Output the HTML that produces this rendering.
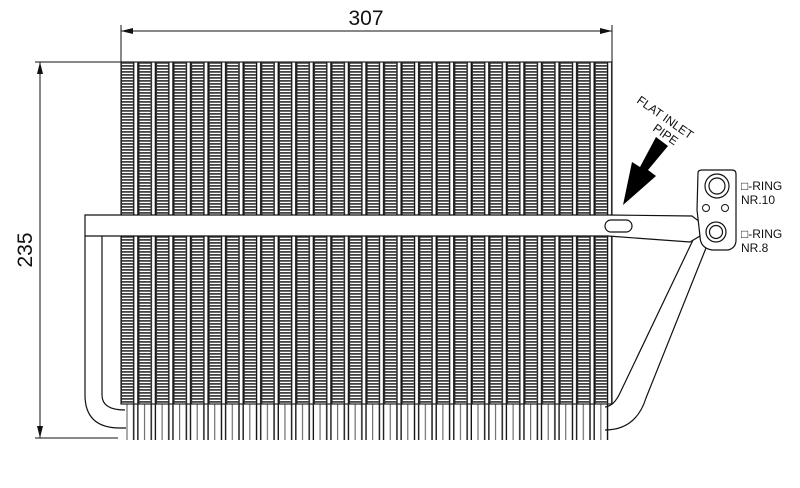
<!DOCTYPE html>
<html><head><style>body{margin:0;background:#fff}svg{display:block}</style></head><body>
<svg width="800" height="488" viewBox="0 0 800 488" xmlns="http://www.w3.org/2000/svg">
<defs>
<pattern id="fin" x="0" y="62" width="4" height="3" patternUnits="userSpaceOnUse">
<rect width="4" height="3" fill="#fff"/><rect y="0" width="4" height="1.8" fill="#444"/>
</pattern>
<pattern id="tube" x="121" y="0" width="17.55" height="488" patternUnits="userSpaceOnUse">
<rect x="12" y="0" width="5.5" height="488" fill="#fff"/>
<rect x="12" y="0" width="1.4" height="488" fill="#111"/>
<rect x="16.2" y="0" width="1.4" height="488" fill="#111"/>
<rect x="0" y="0" width="1" height="488" fill="#333"/>
</pattern>
<pattern id="tubeB" x="121" y="0" width="17.55" height="488" patternUnits="userSpaceOnUse">
<rect width="17.55" height="488" fill="#fff"/>
<rect x="12" y="0" width="1.4" height="488" fill="#111"/>
<rect x="16.2" y="0" width="1.4" height="488" fill="#111"/>
<rect x="5.5" y="0" width="1" height="488" fill="#555"/>
</pattern>
</defs>
<rect x="121" y="62" width="491" height="342" fill="url(#fin)"/>
<rect x="121" y="62" width="491" height="342" fill="url(#tube)"/>
<rect x="126" y="404" width="484" height="36" fill="url(#tubeB)"/>
<rect x="121" y="62" width="491" height="342" fill="none" stroke="#222" stroke-width="1.2"/>
<path d="M85 215 L608 215 L692 216 L700 222 L700 236 L690 242 L608 236 L85 236 Z" fill="#fff" stroke="#111" stroke-width="1.2"/>
<rect x="605" y="220" width="27" height="12" rx="6" fill="#fff" stroke="#111" stroke-width="1.2"/>
<path d="M85 236 L85 395 Q85 428 120 428 L126 428" fill="none" stroke="#111" stroke-width="1.2"/>
<path d="M102 236 L102 395 Q102 410 125 410" fill="none" stroke="#111" stroke-width="1.2"/>
<path d="M693 240 L620 393 Q614 406 605 407" fill="none" stroke="#111" stroke-width="1.2"/>
<path d="M706 248 L646 398 Q636 430 605 430" fill="none" stroke="#111" stroke-width="1.2"/>
<path d="M698 173 Q698 170 702 170 L732 170 Q736 170 736 174 L736 240 Q736 248 728 250 L712 250 Q700 248 700 236 L697 210 Z" fill="#fff" stroke="#111" stroke-width="1.2"/>
<circle cx="717" cy="186" r="12" fill="#fff" stroke="#111" stroke-width="1.2"/>
<circle cx="717" cy="186" r="8" fill="#fff" stroke="#111" stroke-width="1.2"/>
<circle cx="706" cy="208" r="3.5" fill="#fff" stroke="#111"/>
<circle cx="725" cy="208" r="3.5" fill="#fff" stroke="#111"/>
<circle cx="716" cy="232" r="10" fill="#fff" stroke="#111" stroke-width="1.2"/>
<circle cx="716" cy="232" r="6.5" fill="#fff" stroke="#111" stroke-width="1.2"/>
<g font-family="Liberation Sans, sans-serif" font-size="12" fill="#111">
<text x="741" y="190">□-RING</text><text x="741" y="204">NR.10</text>
<text x="741" y="238">□-RING</text><text x="741" y="252">NR.8</text>
</g>
<polygon points="656,137 668,146 648,170 656,176 623,205 632,162 640,167" fill="#000"/>
<text transform="translate(636,102) rotate(35)" font-family="Liberation Sans, sans-serif" font-size="12" fill="#111">FLAT INLET</text>
<text transform="translate(652,130) rotate(35)" font-family="Liberation Sans, sans-serif" font-size="12" fill="#111">PIPE</text>
<g stroke="#111" stroke-width="1" fill="none">
<line x1="121" y1="25" x2="121" y2="62"/><line x1="612" y1="25" x2="612" y2="62"/>
<line x1="121" y1="31" x2="612" y2="31"/>
<line x1="35" y1="62" x2="121" y2="62"/><line x1="35" y1="438" x2="118" y2="438"/>
<line x1="40" y1="62" x2="40" y2="438"/>
</g>
<g fill="#111">
<polygon points="121,31 133,28 133,34"/><polygon points="612,31 600,28 600,34"/>
<polygon points="40,62 37,74 43,74"/><polygon points="40,438 37,426 43,426"/>
</g>
<text x="366" y="25" text-anchor="middle" font-family="Liberation Sans, sans-serif" font-size="21" fill="#111">307</text>
<text transform="translate(32,250) rotate(-90)" text-anchor="middle" font-family="Liberation Sans, sans-serif" font-size="21" fill="#111">235</text>
</svg>
</body></html>
